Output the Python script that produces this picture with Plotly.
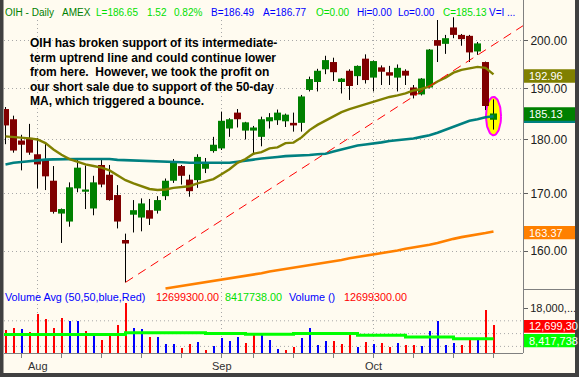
import math
import plotly.graph_objects as go

# ---------------- data ----------------
opens  = [186.0,184.0,179.9,180.4,177.3,176.3,172.4,166.5,165.1,171.0,170.4,167.4,175.3,173.5,169.8,161.9,
          166.3,165.8,167.1,167.0,169.6,172.4,175.1,172.6,172.5,174.6,177.9,178.4,182.2,185.3,181.8,181.8,
          180.6,183.6,183.8,183.6,183.3,183.3,189.8,191.4,194.0,195.5,191.4,193.7,192.6,196.2,192.3,194.4,
          193.4,192.3,193.7,190.3,188.9,190.3,200.1,199.3,202.8,201.2,201.0,197.7,195.5,183.9]
highs  = [186.4,184.7,181.0,183.1,180.4,179.4,175.1,167.4,172.1,176.5,175.2,173.3,176.3,175.3,171.6,163.0,
          168.9,169.2,169.1,169.6,172.8,176.4,175.3,173.5,177.3,176.6,180.6,185.5,184.2,186.0,183.5,182.7,
          184.5,185.2,185.9,185.1,185.3,188.8,192.5,194.1,196.8,196.4,192.2,194.0,194.8,197.1,195.8,194.8,
          194.7,195.0,194.0,190.8,192.2,198.2,204.4,201.2,205.0,201.4,201.2,199.7,195.6,187.9]
lows   = [179.2,177.6,174.3,177.2,171.0,170.7,166.5,161.4,164.2,170.3,167.3,166.2,171.2,168.8,163.9,154.8,
          163.2,163.4,164.5,166.5,168.9,172.0,171.7,169.5,171.1,173.8,177.6,178.1,180.6,182.4,180.1,177.4,
          178.8,182.2,182.9,182.5,181.6,181.6,189.5,189.5,193.0,191.6,189.1,187.8,190.8,191.1,189.5,190.8,
          190.8,189.5,190.8,188.1,188.7,190.1,195.5,197.2,200.5,198.9,195.5,197.0,185.8,182.0]
closes = [182.8,178.0,179.1,177.6,175.4,173.2,166.8,167.3,171.2,174.8,170.8,172.1,171.7,168.9,165.1,161.3,
          167.1,168.3,165.6,168.9,172.4,176.0,173.3,170.5,176.8,175.8,179.1,183.7,184.0,184.0,183.4,182.4,
          184.0,184.4,185.3,184.9,182.8,188.5,192.0,193.7,195.9,193.4,192.1,190.6,194.7,191.8,195.7,193.5,
          192.7,194.3,192.7,188.7,192.1,198.1,198.9,200.5,201.2,200.3,197.5,199.4,186.6,185.13]

ma20 = [180.7,180.6,180.4,180.3,180.1,179.4,178.2,177.2,176.4,175.9,175.4,175.1,174.8,174.3,173.4,172.5,
        171.9,171.4,170.9,170.7,170.8,171.1,171.3,171.4,171.9,172.3,172.7,173.6,174.5,175.7,176.4,177.4,
        177.7,178.4,178.6,179.4,179.5,180.5,181.9,182.9,183.7,184.6,185.4,186.0,186.5,187.0,187.5,188.0,
        188.4,188.7,189.1,189.7,190.0,190.5,191.5,192.3,193.3,193.9,194.2,194.5,194.3,192.96]
ma50 = [175.4,175.7,175.85,176.0,176.2,176.3,176.35,176.4,176.4,176.4,176.4,176.4,176.4,176.4,176.25,176.2,
        176.1,176.05,176.0,175.95,175.95,175.95,175.8,175.7,175.7,175.7,175.7,175.7,175.7,175.9,176.15,176.3,
        176.5,176.6,176.8,176.95,177.0,177.05,177.15,177.3,177.4,177.8,178.2,178.6,178.95,179.15,179.3,179.55,
        179.8,179.95,180.1,180.3,180.6,180.9,181.4,182.0,182.5,183.2,183.7,184.0,184.4,184.6]
ma200 = [None]*20 + [153.8,154.0,154.2,154.4,154.6,154.9,155.1,155.3,155.5,155.7,155.9,156.1,156.3,156.6,
        156.8,157.0,157.2,157.4,157.6,157.8,158.1,158.3,158.5,158.8,159.0,159.3,159.5,159.7,159.9,160.1,
        160.4,160.6,160.8,161.1,161.4,161.8,162.1,162.4,162.6,162.9,163.1,163.37]

volume_m = [11.1,11.75,11.4,10.6,16.1,14.6,11.75,14.9,13.9,13.9,10.8,10.2,8.0,10.2,12.7,19.5,
            11.75,11.4,8.9,8.9,6.75,6.75,5.5,6.75,7.4,4.9,6.1,8.6,7.7,8.9,7.1,9.5,
            10.2,8.0,5.2,4.9,5.8,8.6,11.75,6.4,7.7,7.7,6.75,9.6,5.8,7.4,6.75,7.1,
            5.8,7.1,6.4,6.4,6.1,10.8,13.9,6.4,7.1,6.4,8.0,8.0,17.4,12.6993]
volume_dir = "rrbrrrrrbbrbrrrrbbrbbbrrbrbbbbrrbbbrrbbbbrrrbrbrrbrrbbbbbrrbrr"
vol_avg_m = [9.7]*15 + [10.3]*10 + [10.0]*5 + [9.8]*6 + [10.0]*8 + [9.5]*6 + [8.9]*6 + [8.4177]*6

trend_x = [15, 64.9]
trend_y = [154.8, 203.4]

# highlight ellipse around the last bar: centre bar, half width (bars), low / high price
hl_bar, hl_halfw, hl_lo, hl_hi = 61, 0.94, 180.9, 188.4

month_pos = [4, 27, 46]
month_lbl = ["Aug", "Sep", "Oct"]
week_pos = [2, 7, 12, 17, 22, 27, 31, 36, 41, 46, 51, 56, 61]
price_ticks = [160, 170, 180, 190, 200]

note_lines = ["OIH has broken support of its intermediate-",
              "term uptrend line and could continue lower",
              "from here.\u00a0 However, we took the profit on",
              "our short sale due to support of the 50-day",
              "MA, which triggered a bounce."]

# ---------------- geometry helpers ----------------
W, H = 579, 377
L, R, T, B = 4, 56, 0, 24
PW, PH = W - L - R, H - T - B
def xp(px): return (px - L) / PW
def yp(py): return (PH + T - py) / PH

n = len(closes)
idx = list(range(n))
split = yp(290)

FONT = "Liberation Sans, Arial, sans-serif"
CREAM = "#FFFBF0"

fig = go.Figure()

# highlight ellipse (drawn first so the candle sits on top)
lc, lr = (math.log10(hl_lo) + math.log10(hl_hi)) / 2, (math.log10(hl_hi) - math.log10(hl_lo)) / 2
ex = [hl_bar + hl_halfw * math.cos(2 * math.pi * k / 72) for k in range(73)]
ey = [10 ** (lc + lr * math.sin(2 * math.pi * k / 72)) for k in range(73)]
fig.add_trace(go.Scatter(x=ex, y=ey, mode="lines", fill="toself", fillcolor="#FFFF00",
                         line=dict(color="#FF00FF", width=2), hoverinfo="skip", showlegend=False))

# wicks
wx, wy = [], []
for i in idx:
    wx += [i, i, None]; wy += [lows[i], highs[i], None]
fig.add_trace(go.Scatter(x=wx, y=wy, mode="lines", line=dict(color="black", width=1),
                         hoverinfo="skip", showlegend=False))
# bodies
for up, col in ((True, "#008000"), (False, "#800000")):
    bx, by = [], []
    for i in idx:
        if (closes[i] >= opens[i]) == up:
            bx += [i, i, None]; by += [opens[i], closes[i], None]
    fig.add_trace(go.Scatter(x=bx, y=by, mode="lines", line=dict(color=col, width=7),
                             hoverinfo="skip", showlegend=False))

# moving averages
fig.add_trace(go.Scatter(x=idx, y=ma50, mode="lines", line=dict(color="#008080", width=2.6), showlegend=False))
fig.add_trace(go.Scatter(x=idx, y=ma20, mode="lines", line=dict(color="#808000", width=2.4), showlegend=False))
fig.add_trace(go.Scatter(x=idx, y=ma200, mode="lines", line=dict(color="#FF8000", width=2.6), showlegend=False))
# trend line
fig.add_trace(go.Scatter(x=trend_x, y=trend_y, mode="lines",
                         line=dict(color="#FF0000", width=1, dash="9px,6px"), showlegend=False))

# volume
vcols = ["#0000FF" if d == "b" else "#FF0000" for d in volume_dir]
fig.add_trace(go.Bar(x=idx, y=[v * 1e6 for v in volume_m], marker=dict(color=vcols, line=dict(width=0)),
                     width=0.25, yaxis="y2", showlegend=False))
fig.add_trace(go.Scatter(x=[-0.5] + idx, y=[vol_avg_m[0] * 1e6] + [v * 1e6 for v in vol_avg_m],
                         mode="lines", line=dict(color="#00FF00", width=3, shape="hv"),
                         yaxis="y2", showlegend=False))

shapes = []
# month gridlines
for m in month_pos:
    shapes.append(dict(type="line", xref="x", yref="paper", x0=m, x1=m, y0=0, y1=yp(18),
                       line=dict(color="#A8A8A8", width=1, dash="1px,3px"), layer="below"))
# volume gridlines
for v in (6e6, 10e6, 14e6):
    shapes.append(dict(type="line", xref="paper", yref="y2", x0=0, x1=1, y0=v, y1=v,
                       line=dict(color="#A8A8A8", width=1, dash="1px,3px"), layer="below"))
# right axis line + separator
shapes.append(dict(type="line", xref="paper", yref="paper", x0=xp(523.5), x1=xp(523.5), y0=0, y1=1,
                   line=dict(color="#808080", width=1)))
shapes.append(dict(type="line", xref="paper", yref="paper", x0=xp(523.5), x1=xp(575), y0=yp(289.5), y1=yp(289.5),
                   line=dict(color="#808080", width=1)))
# value boxes on the axis
def box(y0, y1, col):
    shapes.append(dict(type="rect", xref="paper", yref="paper", x0=xp(524), x1=xp(575),
                       y0=yp(y1), y1=yp(y0), fillcolor=col, line=dict(width=0)))
box(69.3, 82.7, "#808000")
box(109.5, 123, "#008080")
box(107.3, 120.7, "#008000")
box(226, 239.3, "#FF8000")
box(320, 332.7, "#FF0000")
box(334, 347.3, "#00FF00")
# dark frame
for x0, x1, y0, y1 in ((0, 3.5, 0, 377), (575, 579, 0, 377), (0, 579, 373, 377)):
    shapes.append(dict(type="rect", xref="paper", yref="paper", x0=xp(x0), x1=xp(x1),
                       y0=yp(y1), y1=yp(y0), fillcolor="#404040", line=dict(width=0)))

ann = []
def txt(text, px, py, color, size=11, bold=False, xanchor="left"):
    if bold:
        text = "<b>" + text + "</b>"
    ann.append(dict(text=text, x=xp(px), y=yp(py), xref="paper", yref="paper",
                    xanchor=xanchor, yanchor="middle", showarrow=False, borderpad=0,
                    font=dict(family=FONT, size=size, color=color)))

# header
DG, LG, BL, RD = "#008000", "#00E000", "#0000FF", "#FF0000"
for t, x, c in (("OIH - Daily", 4, DG), ("AMEX", 60.5, DG), ("L=186.65", 95, LG), ("1.52", 145.5, LG),
                ("0.82%", 173, LG), ("B=186.49", 209.5, BL), ("A=186.77", 262, BL), ("O=0.00", 315, LG),
                ("Hi=0.00", 355.5, BL), ("Lo=0.00", 397, BL), ("C=185.13", 441.5, LG), ("V=I ...", 488, BL)):
    txt(t, x, 12.5, c, size=10)
# comment block
for k, line in enumerate(note_lines):
    txt(line, 28.5, 43.3 + k * 14.4, "#000000", size=12, bold=True)
# volume legend
for t, x, c in (("Volume Avg (50,50,blue,Red)", 4, BL), ("12699300.00", 154.5, RD), ("8417738.00", 224, "#00E000"),
                ("Volume ()", 288, BL), ("12699300.00", 343, RD)):
    txt(t, x, 297, c, size=10.8)
# axis value labels
for t, y in (("192.96", 76), ("185.13", 114), ("163.37", 232.7), ("12,699,30", 326.3), ("8,417,738", 340.7)):
    txt(t, 528, y, "#FFFFFF")
# month labels
for m, lab in zip(month_pos, month_lbl):
    ann.append(dict(text=lab, x=m, y=yp(366), xref="x", yref="paper", xanchor="center", yanchor="middle",
                    showarrow=False, font=dict(family=FONT, size=11, color="#303030")))

fig.update_layout(
    width=W, height=H, margin=dict(l=L, r=R, t=T, b=B, autoexpand=False),
    paper_bgcolor=CREAM, plot_bgcolor=CREAM, showlegend=False, bargap=0,
    xaxis=dict(range=[-0.1875, 64.6875], anchor="y2", showgrid=False, zeroline=False,
               tickvals=week_pos, ticktext=[""] * len(week_pos), ticks="outside", ticklen=4,
               tickcolor="#808080", showline=True, linecolor="#808080", linewidth=1, fixedrange=True),
    yaxis=dict(type="log", domain=[split, 1], side="right", anchor="x",
               range=[math.log10(153.55), math.log10(208.78)],
               tickvals=price_ticks, ticktext=["%.2f" % v for v in price_ticks],
               ticks="outside", ticklen=4, tickcolor="#606060",
               tickfont=dict(family=FONT, size=12, color="#202020"),
               showgrid=True, gridcolor="#A8A8A8", gridwidth=1, griddash="1px,3px",
               zeroline=False, showline=False),
    yaxis2=dict(domain=[0, split], side="right", anchor="x", range=[3.9375e6, 23.625e6],
                tickvals=[18e6], ticktext=["18,000,..."], ticks="outside", ticklen=4, tickcolor="#606060",
                tickfont=dict(family=FONT, size=11, color="#202020"),
                showgrid=False, zeroline=False, showline=False),
    shapes=shapes, annotations=ann,
)

fig.write_html("out.html")
